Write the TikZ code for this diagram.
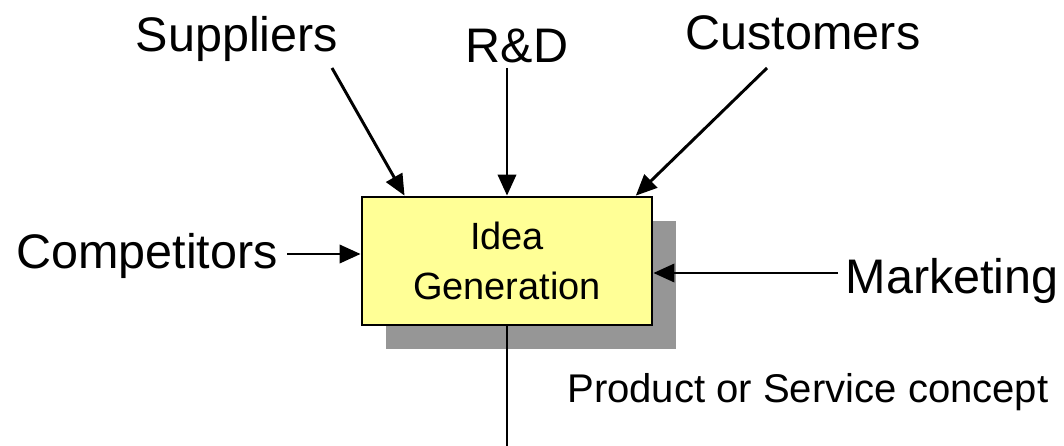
\documentclass[tikz,border=0pt]{standalone}
\usepackage{fontspec}
\setmainfont{Liberation Sans}
\usepackage{tikz}
\usetikzlibrary{arrows.meta,positioning,shadows,calc}
\definecolor{ideayellow}{RGB}{255,255,150}
\definecolor{shadowgray}{RGB}{150,150,150}

\begin{document}
\begin{tikzpicture}[x=0.025cm, y=-0.025cm,
        flow/.style={line width=2.1pt, -{Triangle[length=15pt,width=13pt]}},
        plain/.style={line width=2.1pt},
        label/.style={font=\fontsize{34.5}{40}\selectfont, inner sep=0pt},
        ideabox/.style={draw=black, line width=1.9pt, fill=ideayellow,
            minimum width=7.25cm, minimum height=3.2cm, align=center,
            font=\fontsize{27}{35.5}\selectfont,
            drop shadow={shadow xshift=0.6cm, shadow yshift=-0.6cm,
                fill=shadowgray, opacity=1}}]
    \useasboundingbox (0,0) rectangle (1064,446);
    % --- Central box ---
    \node[ideabox] (idea) at (507,261) {Idea\\Generation};
    % --- Inputs ---
    \node[label, anchor=base] (sup) at (237,52) {Suppliers};
    \node[label, anchor=base] (rd) at (517,63) {R\&D};
    \node[label, anchor=base] (cus) at (803,50) {Customers};
    \node[label, anchor=base] (comp) at (147,268) {Competitors};
    \node[label, anchor=base east] (mkt) at (1059,293) {Marketing};
    % --- Output ---
    \node[anchor=base west, inner sep=0pt, font=\fontsize{28.5}{32}\selectfont]
        (concept) at (567,402) {Product or Service concept};
    % Arrow start points
    \coordinate (supfrom) at (332,68);
    \coordinate (rdfrom) at (507,68);
    \coordinate (cusfrom) at (767,68);
    \coordinate (compfrom) at (287,254);
    \coordinate (mktfrom) at (838,273);
    \coordinate (outto) at (507,446);
    % Arrows
    \draw[flow] (supfrom) -- ($(idea.north west)!0.15!(idea.north east)$);
    \draw[flow] (rdfrom) -- (idea.north);
    \draw[flow] (cusfrom) -- ($(idea.north west)!0.94!(idea.north east)$);
    \draw[flow] (compfrom) -- (compfrom -| idea.west);
    \draw[flow] (mktfrom) -- (mktfrom -| idea.east);
    \draw[plain] (idea.south) -- (outto);
\end{tikzpicture}
\end{document}
